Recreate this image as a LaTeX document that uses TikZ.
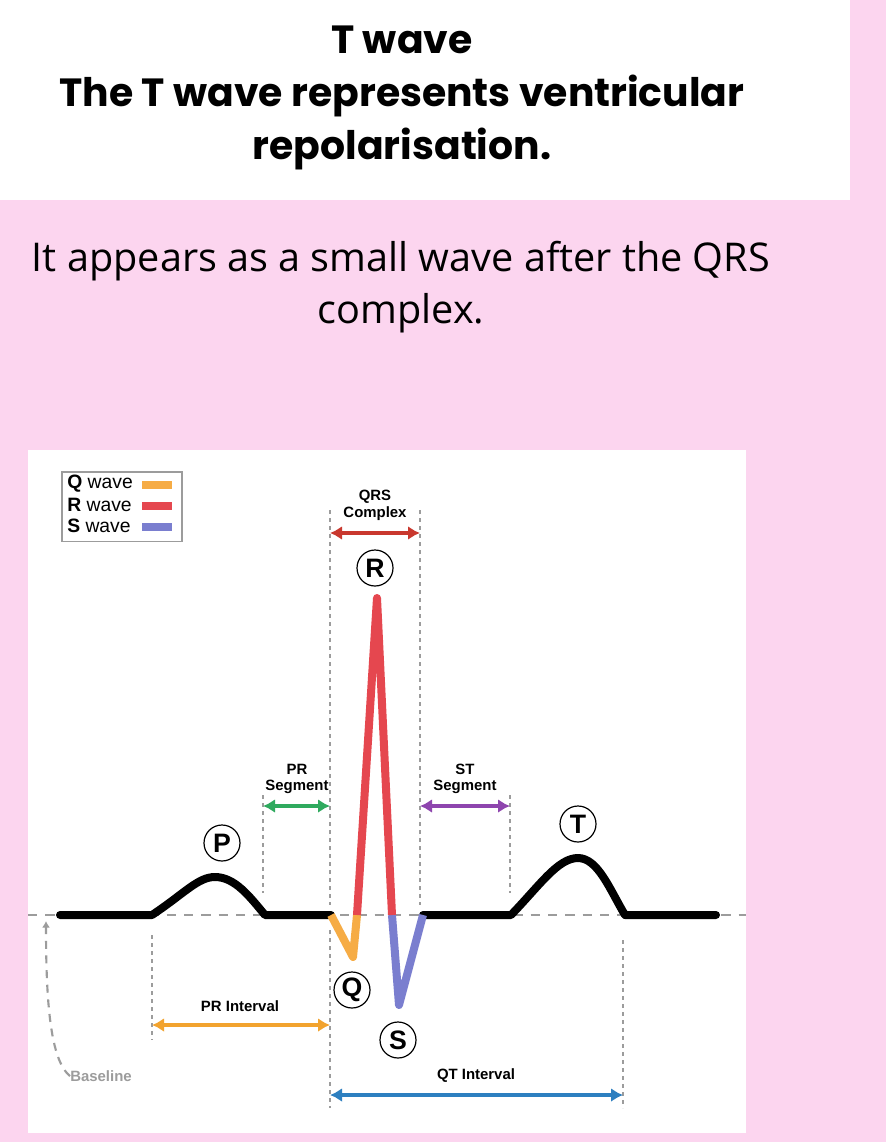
\documentclass[tikz,border=0pt]{standalone}
\usepackage{fontspec}
\setmainfont{Liberation Sans}
\newfontfamily\headfont{Poppins}
\newfontfamily\bodyfont{Open Sans}
\usepackage{tikz}
\usetikzlibrary{positioning,arrows.meta,calc}
\definecolor{pinkbg}{HTML}{FCD5EF}
\definecolor{qwave}{HTML}{F6AC45}
\definecolor{rwave}{HTML}{E5474F}
\definecolor{swave}{HTML}{7A7ECF}
\definecolor{prseg}{HTML}{2FAA5E}
\definecolor{stseg}{HTML}{8E45AE}
\definecolor{print}{HTML}{F2A32E}
\definecolor{qtint}{HTML}{2D7FC0}
\definecolor{qrscol}{HTML}{C9382E}
\definecolor{guidecol}{HTML}{9C9C9C}
\tikzset{
    trace/.style = {
        draw,
        line width=6pt,
        line join=round,
        line cap=round
    },
    guide/.style = {
        draw,
        color=guidecol,
        line width=0.9pt,
        dash pattern=on 3pt off 3pt
    },
    span/.style = {
        draw,
        line width=3.4pt,
        <->
    },
    wavecircle/.style = {
        draw,
        shape=circle,
        line width=0.9pt,
        minimum size=27pt,
        inner sep=0pt,
        font=\fontsize{20}{20}\selectfont\bfseries
    },
    caption/.style = {
        align=center,
        inner sep=0pt,
        font=\fontsize{11.2}{12.5}\selectfont\bfseries
    },
    swatch/.style = {
        shape=rectangle,
        minimum width=23pt,
        minimum height=6pt,
        inner sep=0pt
    },
    legendtext/.style = {
        anchor=west,
        inner sep=0pt,
        font=\fontsize{14.5}{14.5}\selectfont
    },
    >={Latex[length=9pt,width=10.5pt]},
}

\begin{document}
\begin{tikzpicture}[x=0.75pt,y=-0.75pt]
    % page and panels
    \path[fill=pinkbg] (0,0) rectangle (886,1142);
    \path[fill=white] (0,0) rectangle (850,200);
    \path[fill=white] (28,450) rectangle (746,1133);
    \useasboundingbox (0,0) rectangle (886,1142);

    % headings
    \node[font=\headfont\bfseries\fontsize{29.5}{40}\selectfont, align=center] (title) at (402,98)
        {T wave\\The T wave represents ventricular\\repolarisation.};
    \node[font=\bodyfont\fontsize{29.7}{39}\selectfont, align=center] (intro) at (401,287)
        {It appears as a small wave after the QRS\\complex.};

    % legend
    \node[draw, color=guidecol, line width=1pt, shape=rectangle, minimum width=90pt, minimum height=52pt, inner sep=0pt] (legend) at (122,506.5) {};
    \node[legendtext] (qtext) at (67,484) {\textbf{Q} wave};
    \node[legendtext] (rtext) at (67,505) {\textbf{R} wave};
    \node[legendtext] (stext) at (67,526) {\textbf{S} wave};
    \node[swatch, fill=qwave] (qsw) at (157,485) {};
    \node[swatch, fill=rwave] (rsw) at (157,506) {};
    \node[swatch, fill=swave] (ssw) at (157,527) {};

    % guide coordinates
    \coordinate (qrsa) at (330,510);
    \coordinate (qrsb) at (330,905);
    \coordinate (qrsc) at (420,510);
    \coordinate (qrsd) at (420,905);
    \coordinate (pra) at (263,795);
    \coordinate (prb) at (263,893);
    \coordinate (sta) at (510,795);
    \coordinate (stb) at (510,893);
    \coordinate (pia) at (152,935);
    \coordinate (pib) at (152,1040);
    \coordinate (qta) at (330,930);
    \coordinate (qtb) at (330,1108);
    \coordinate (qtc) at (623,940);
    \coordinate (qtd) at (623,1108);
    \coordinate (basel) at (28,915);
    \coordinate (baser) at (746,915);

    \path[guide] (qrsa) -- (qrsb);
    \path[guide] (qrsc) -- (qrsd);
    \path[guide] (pra) -- (prb);
    \path[guide] (sta) -- (stb);
    \path[guide] (pia) -- (pib);
    \path[guide] (qta) -- (qtb);
    \path[guide] (qtc) -- (qtd);
    \path[draw, color=guidecol, line width=1.1pt, dash pattern=on 7pt off 6pt] (basel) -- (baser);

    % ecg trace
    \coordinate (start) at (60,915);
    \coordinate (pon) at (152,915);
    \coordinate (ppeak) at (215,877);
    \coordinate (poff) at (265,915);
    \coordinate (qon) at (331,915);
    \coordinate (qlow) at (353,957);
    \coordinate (ron) at (357,915);
    \coordinate (rpeak) at (377,598);
    \coordinate (son) at (392,915);
    \coordinate (slow) at (399,1005);
    \coordinate (soff) at (423,915);
    \coordinate (ton) at (511,915);
    \coordinate (tpeak) at (578,858);
    \coordinate (toff) at (625,915);
    \coordinate (stop) at (716,915);

    \path[trace, color=black] (start) -- (pon)
        .. controls (185,893) and (198,877) .. (ppeak)
        .. controls (235,877) and (250,897) .. (poff) -- (qon);
    \path[trace, color=black] (soff) -- (ton)
        .. controls (540,885) and (558,858) .. (tpeak)
        .. controls (598,858) and (610,890) .. (toff) -- (stop);
    \path[trace, color=qwave, line cap=butt] (qon) -- (qlow) -- (ron);
    \path[trace, color=swave, line cap=butt] (son) -- (slow) -- (soff);
    \path[trace, color=rwave, line cap=butt] (ron) -- (rpeak) -- (son);

    % wave markers
    \node[wavecircle] (rmark) at (375,568) {R};
    \node[wavecircle] (pmark) at (222,843) {P};
    \node[wavecircle] (tmark) at (578,824) {T};
    \node[wavecircle] (qmark) at (352,990) {Q};
    \node[wavecircle] (smark) at (398,1040) {S};

    % spans
    \coordinate (qrsl) at (330,533);
    \coordinate (qrsr) at (420,533);
    \coordinate (prl) at (263,806);
    \coordinate (prr) at (330,806);
    \coordinate (stl) at (420,806);
    \coordinate (str) at (510,806);
    \coordinate (pil) at (152,1025);
    \coordinate (pir) at (330,1025);
    \coordinate (qtl) at (330,1095);
    \coordinate (qtr) at (623,1095);

    \path[span, color=qrscol] (qrsl) -- (qrsr);
    \path[span, color=prseg] (prl) -- (prr);
    \path[span, color=stseg] (stl) -- (str);
    \path[span, color=print] (pil) -- (pir);
    \path[span, color=qtint] (qtl) -- (qtr);

    \node[caption] (qrscap) at (375,505) {QRS\\Complex};
    \node[caption] (prcap) at (297,779) {PR\\Segment};
    \node[caption] (stcap) at (465,779) {ST\\Segment};
    \node[caption] (picap) at (240,1006) {PR Interval};
    \node[caption] (qtcap) at (476,1076) {QT Interval};

    % baseline note
    \node[caption, anchor=west, color=guidecol] (basecap) at (70,1076) {Baseline};
    \coordinate (basetip) at (46,921);
    \path[draw, color=guidecol, line width=1.6pt, dash pattern=on 6pt off 5pt, -{Latex[length=5pt,width=6pt]}] (basecap.west)
        .. controls (50,1060) and (46,1000) .. (basetip);
\end{tikzpicture}
\end{document}
